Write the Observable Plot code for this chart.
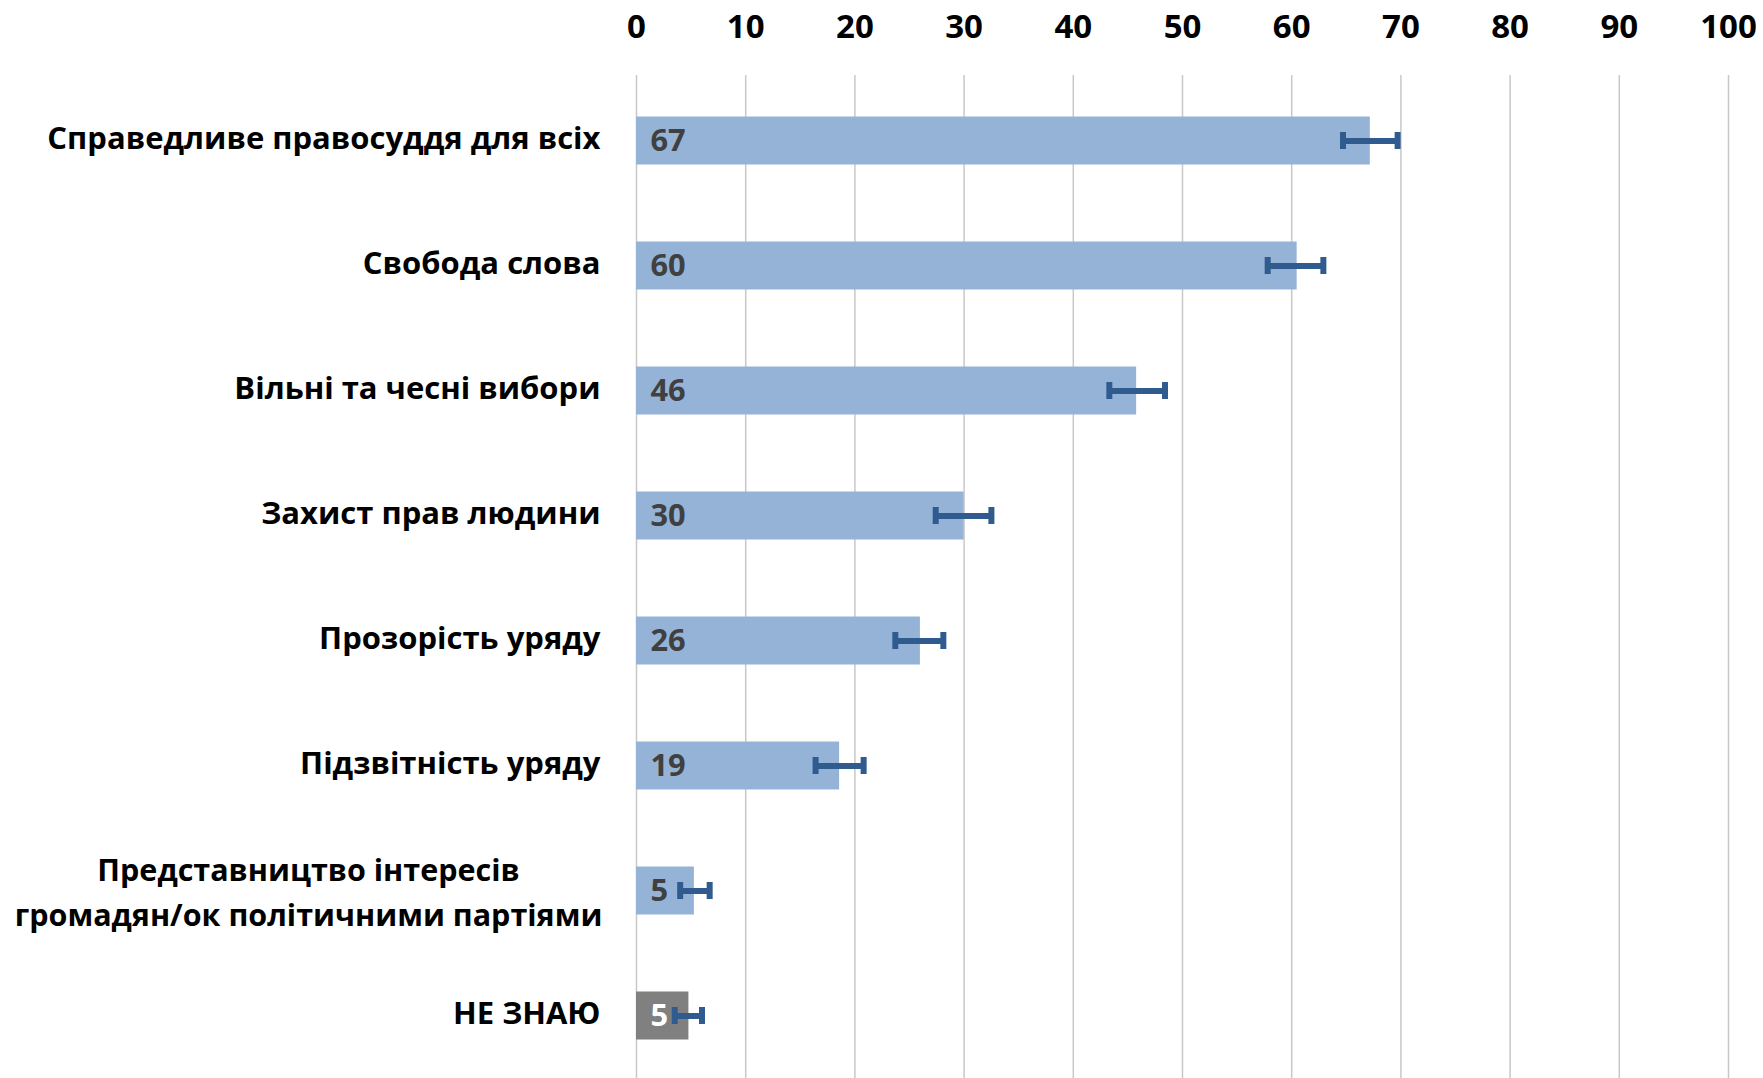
<!DOCTYPE html>
<html>
<head>
<meta charset="utf-8">
<script src="https://cdn.jsdelivr.net/npm/d3@7"></script>
<script src="https://cdn.jsdelivr.net/npm/@observablehq/plot@0.6"></script>
<style>
  html, body { margin: 0; padding: 0; background: #fff; }
  #chart svg { display: block; }
</style>
</head>
<body>
<div id="chart"></div>
<script>
// ---- Data ----
const categories = [
  "Справедливе правосуддя для всіх",
  "Свобода слова",
  "Вільні та чесні вибори",
  "Захист прав людини",
  "Прозорість уряду",
  "Підзвітність уряду",
  "Представництво інтересів громадян/ок політичними партіями",
  "НЕ ЗНАЮ"
];
const categoryLines = [
  "Справедливе правосуддя для всіх",
  "Свобода слова",
  "Вільні та чесні вибори",
  "Захист прав людини",
  "Прозорість уряду",
  "Підзвітність уряду",
  "Представництво інтересів\nгромадян/ок політичними партіями",
  "НЕ ЗНАЮ"
];
const values = [67.2, 60.5, 45.8, 30.0, 26.0, 18.6, 5.3, 4.8];
const valueLabels = ["67", "60", "46", "30", "26", "19", "5", "5"];
const errLow = [64.7, 57.8, 43.3, 27.4, 23.7, 16.4, 4.0, 3.5];
const errHigh = [69.7, 62.9, 48.4, 32.5, 28.1, 20.8, 6.7, 6.0];
const xTicks = [0, 10, 20, 30, 40, 50, 60, 70, 80, 90, 100];
const dontKnow = "НЕ ЗНАЮ";

const rows = categories.map((cat, i) => ({
  cat,
  lines: categoryLines[i],
  value: values[i],
  label: valueLabels[i],
  lo: errLow[i],
  hi: errHigh[i]
}));

const FONT = "'Open Sans', sans-serif";
const blue = "#95b3d7";
const gray = "#808080";
const errColor = "#2f5b8f";
const fs = 30.8;

const plot = Plot.plot({
  width: 1763,
  height: 1078,
  marginLeft: 636,
  marginRight: 35,
  marginTop: 75,
  marginBottom: 0,
  style: { fontFamily: FONT, background: "#fff", overflow: "visible" },
  x: { domain: [0, 100] },
  y: { domain: categories, padding: 0, range: [74.5, 1081], axis: null },
  marks: [
    Plot.gridX({ ticks: xTicks, stroke: "#c8c8c8", strokeOpacity: 1, strokeWidth: 1.5 }),
    Plot.axisX({
      anchor: "top", ticks: xTicks, tickSize: 0, tickPadding: 38,
      fontSize: 33, fontWeight: "bold", fill: "#000", label: null
    }),
    Plot.barX(rows.filter(d => d.cat !== dontKnow), {
      x: "value", y: "cat", fill: blue, insetTop: 38.5, insetBottom: 38.5
    }),
    Plot.barX(rows.filter(d => d.cat === dontKnow), {
      x: "value", y: "cat", fill: gray, insetTop: 38.5, insetBottom: 38.5
    }),
    Plot.text(rows, {
      x: 0, y: "cat", text: "label", textAnchor: "start", dx: 14, dy: 0,
      fontSize: fs, fontWeight: "bold",
      fill: d => d.cat === dontKnow ? "#ffffff" : "#404040"
    }),
    Plot.ruleY(rows, { y: "cat", x1: "lo", x2: "hi", stroke: errColor, strokeWidth: 6 }),
    Plot.tickX(rows, { x: "lo", y: "cat", stroke: errColor, strokeWidth: 6, insetTop: 54, insetBottom: 54 }),
    Plot.tickX(rows, { x: "hi", y: "cat", stroke: errColor, strokeWidth: 6, insetTop: 54, insetBottom: 54 }),
    Plot.text(rows.filter(d => !d.lines.includes("\n")), {
      y: "cat", text: "lines", frameAnchor: "left", textAnchor: "end", dx: -36, dy: -2,
      fontSize: 31, fontWeight: "bold", fill: "#000"
    }),
    Plot.text(rows.filter(d => d.lines.includes("\n")), {
      y: "cat", text: "lines", frameAnchor: "left", textAnchor: "middle", dx: -328, dy: -2,
      lineHeight: 1.47, fontSize: 30.5, fontWeight: "bold", fill: "#000"
    })
  ]
});
document.getElementById("chart").appendChild(plot);
</script>
</body>
</html>
